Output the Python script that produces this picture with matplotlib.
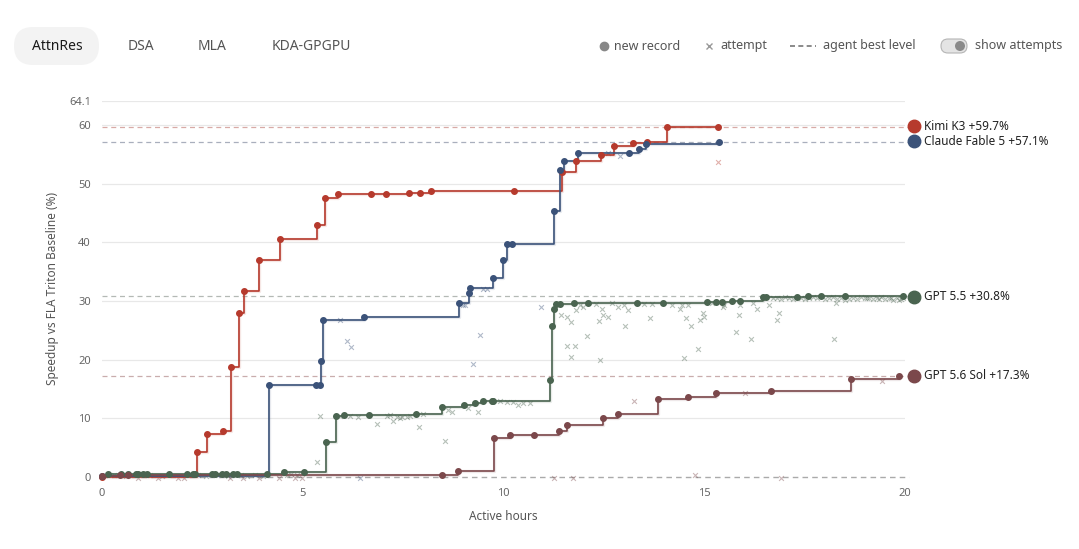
import matplotlib
matplotlib.use("Agg")
import matplotlib.pyplot as plt
from matplotlib.patches import FancyBboxPatch, Circle
from matplotlib.lines import Line2D

plt.rcParams['font.family'] = ['Noto Sans', 'DejaVu Sans']

# ---- data (hours, speedup %) ----
kimi_h = [0.0, 2.37, 2.61, 3.01, 3.22, 3.40, 3.54, 3.90, 4.43, 5.35, 5.56, 5.87, 6.70, 7.08,
          7.65, 7.93, 8.20, 10.26, 11.45, 11.81, 12.42, 12.76, 13.23, 13.57, 14.07, 15.34]
kimi_v = [0.0, 4.3, 7.3, 7.8, 18.8, 27.9, 31.7, 37.0, 40.6, 43.0, 47.5, 48.2, 48.2, 48.3,
          48.5, 48.5, 48.7, 48.7, 52.0, 53.8, 54.9, 56.4, 57.0, 57.1, 59.7, 59.7]
kimi_att_h = [15.34]
kimi_att_v = [53.7]

claude_h = [0.0, 4.17, 5.33, 5.42, 5.45, 5.51, 6.53, 8.88, 9.15, 9.17, 9.75, 9.98, 10.09, 10.20,
            11.26, 11.41, 11.51, 11.86, 13.12, 13.37, 13.55, 15.37]
claude_v = [0.1, 15.6, 15.6, 15.7, 19.7, 26.7, 27.3, 29.7, 31.3, 32.2, 33.9, 37.0, 39.8, 39.8,
            45.3, 52.3, 53.9, 55.3, 55.3, 55.9, 56.8, 57.1]
claude_att_h = [5.93, 6.11, 6.21, 9.0, 9.03, 9.25, 9.41, 9.50, 9.60, 10.94, 12.61, 12.90, 6.43]
claude_att_v = [26.7, 23.2, 22.2, 29.3, 29.4, 19.3, 24.2, 32.1, 32.1, 28.9, 55.2, 54.8, -0.1]

gpt55_h = [0.15, 0.47, 0.66, 0.85, 0.90, 1.03, 1.11, 1.68, 2.11, 2.27, 2.32, 2.73, 2.81, 2.98,
           3.10, 3.27, 3.35, 4.11, 4.53, 5.03, 5.58, 5.83, 6.03, 6.66, 7.82, 8.46, 9.02, 9.29,
           9.50, 9.71, 9.75, 11.16, 11.22, 11.27, 11.32, 11.41, 11.76, 12.10, 13.32, 13.98,
           15.06, 15.29, 15.43, 15.68, 15.89, 16.47, 16.55, 17.30, 17.59, 17.92, 18.51, 19.95]
gpt55_v = [0.45, 0.45, 0.45, 0.45, 0.45, 0.45, 0.45, 0.45, 0.45, 0.45, 0.5, 0.5, 0.5, 0.5,
           0.5, 0.5, 0.5, 0.5, 0.85, 0.9, 6.0, 10.4, 10.6, 10.6, 10.8, 12.0, 12.3, 12.7,
           12.9, 13.0, 13.0, 16.6, 25.8, 28.7, 29.5, 29.5, 29.6, 29.6, 29.6, 29.6,
           29.8, 29.9, 29.9, 30.0, 30.0, 30.7, 30.7, 30.7, 30.8, 30.8, 30.8, 30.8]
gpt55_att_h = [0.3, 0.6, 1.2, 1.5, 2.4, 2.6, 2.9, 3.15, 3.45, 3.6, 3.8, 4.0, 4.6, 4.7, 4.85,
               5.35, 5.43, 5.93, 6.18, 6.38, 6.86, 7.09, 7.17, 7.26, 7.34, 7.42, 7.46, 7.59,
               7.67, 7.90, 8.0, 8.55, 8.63, 8.71, 9.12, 9.36, 9.91, 10.08, 10.24, 10.37, 10.49,
               10.66,
               11.42, 11.57, 11.59, 11.67, 11.68, 11.78, 11.81, 11.99, 12.09, 12.38, 12.40, 12.45,
               12.49, 12.60, 12.69, 12.84, 13.03, 13.11, 13.64, 14.40, 14.50, 14.55, 14.60, 14.67,
               14.84, 14.90, 14.98, 15.00, 15.47, 15.78, 15.87, 15.89, 16.17, 16.22, 16.31, 16.62,
               16.80, 16.86, 18.24, 18.28,
               11.9, 12.3, 13.0, 13.5, 13.7, 14.2, 14.45, 15.2, 15.5,
               16.7, 16.9, 17.0, 17.1, 17.4, 17.5, 17.7, 17.8, 18.0, 18.1, 18.2, 18.4, 18.6,
               18.7, 18.8, 18.9, 19.0, 19.1, 19.2, 19.3, 19.4, 19.5, 19.6, 19.7, 19.8, 19.9, 19.95,
               16.8, 17.2, 17.6, 18.3, 18.5, 19.05, 19.35, 19.65, 19.85]
gpt55_att_v = [0.3, 0.2, 0.3, 0.2, 0.3, 0.2, 0.3, 0.2, 0.3, 0.2, 0.3, 0.2, 0.4, 0.5, 0.4,
               2.6, 10.4, 10.4, 10.4, 10.3, 9.0, 10.4, 10.6, 9.5, 10.3, 10.0, 10.2, 10.3,
               10.4, 8.6, 10.7, 6.1, 11.4, 11.0, 11.7, 11.0, 13.0, 12.8, 12.8, 12.2, 12.6,
               12.7,
               27.6, 22.4, 27.3, 26.5, 20.5, 22.4, 28.4, 29.0, 24.1, 26.6, 19.9, 28.6,
               27.7, 27.3, 29.6, 29.0, 25.7, 28.4, 27.1, 28.6, 20.3, 27.1, 29.3, 25.7,
               21.9, 26.8, 27.9, 27.3, 29.0, 24.8, 27.7, 29.3, 23.5, 29.6, 28.6, 29.3,
               26.7, 27.9, 23.5, 29.7,
               29.4, 29.5, 29.4, 29.5, 29.5, 29.4, 29.3, 29.7, 29.4,
               30.6, 30.4, 30.7, 30.5, 30.6, 30.3, 30.7, 30.5, 30.4, 30.6, 30.7, 30.5, 30.3,
               30.6, 30.4, 30.7, 30.5, 30.6, 30.3, 30.5, 30.7, 30.4, 30.6, 30.2, 30.5, 30.4, 30.6,
               30.5, 30.3, 30.6, 30.4, 30.2, 30.5, 30.3, 30.6, 30.1]

gpt56_h = [0.0, 0.45, 0.66, 8.48, 8.86, 9.76, 10.15, 10.76, 11.39, 11.59, 12.47, 12.85, 13.84,
           14.59, 15.29, 16.67, 18.65, 19.85]
gpt56_v = [0.25, 0.3, 0.3, 0.3, 1.1, 6.6, 7.2, 7.2, 7.8, 8.8, 10.0, 10.7, 13.3,
           13.7, 14.3, 14.6, 16.7, 17.3]
gpt56_att_h = [0.9, 1.4, 1.9, 2.05, 3.2, 3.5, 3.9, 4.4, 4.8, 4.97, 11.26, 11.72, 16.91,
               14.77, 13.26, 16.02, 19.43]
gpt56_att_v = [-0.1, -0.1, -0.1, -0.1, -0.1, -0.1, -0.1, -0.1, -0.1, -0.1, -0.1, -0.1, -0.1,
               0.4, 12.9, 14.3, 16.4]

names = ["Kimi K3", "Claude Fable 5", "GPT 5.5", "GPT 5.6 Sol"]
best = [59.7, 57.1, 30.8, 17.3]
colors = ["#b63a2d", "#3b5279", "#4a6450", "#7b484b"]
dash_colors = ["#d8aaa6", "#a9afbd", "#b4b9b5", "#c9adad"]

series = [
    (kimi_h, kimi_v, kimi_att_h, kimi_att_v),
    (claude_h, claude_v, claude_att_h, claude_att_v),
    (gpt55_h, gpt55_v, gpt55_att_h, gpt55_att_v),
    (gpt56_h, gpt56_v, gpt56_att_h, gpt56_att_v),
]

yticks = [0, 10, 20, 30, 40, 50, 60, 64.1]
ytick_labels = ["0", "10", "20", "30", "40", "50", "60", "64.1"]
xticks = [0, 5, 10, 15, 20]
tabs = ["AttnRes", "DSA", "MLA", "KDA-GPGPU"]
tab_x = [57, 141, 212, 311]

W, H = 1079, 549
fig = plt.figure(figsize=(W / 100, H / 100), dpi=100)
ax = fig.add_axes([102 / W, 1 - 477 / H, (905 - 102) / W, (477 - 101) / H])
ax.set_xlim(0, 20)
ax.set_ylim(0, 64.1)

for s in ax.spines.values():
    s.set_visible(False)

for y in yticks[1:]:
    ax.axhline(y, color="#e8e8e8", lw=0.9, zorder=0)
ax.plot([0, 20.1], [0, 0], color="#aaaaaa", lw=1.0, ls=(0, (4, 3)), zorder=1, clip_on=False)

ax.set_yticks(yticks)
ax.set_yticklabels(ytick_labels)
ax.set_xticks(xticks)
ax.tick_params(length=0, labelsize=8, colors="#666666", pad=8)
ax.tick_params(axis="x", pad=8)
ax.set_xlabel("Active hours", fontsize=8.5, color="#555555", labelpad=8)
ax.set_ylabel("Speedup vs FLA Triton Baseline (%)", fontsize=8.5, color="#555555", labelpad=7)

for (h, v, ah, av), name, b, c, dc in zip(series, names, best, colors, dash_colors):
    ax.plot([0, 20.15], [b, b], color=dc, lw=0.9, ls=(0, (4, 3)), zorder=1, clip_on=False)
    ax.scatter(ah, av, marker="x", s=12, color=c, alpha=0.4, linewidths=0.8, zorder=2,
               clip_on=False)
    ax.step(h, v, where="post", color=c, lw=2.4, alpha=0.12, zorder=3, clip_on=False)
    ax.step(h, v, where="post", color=c, lw=1.2, zorder=4, clip_on=False)
    ax.plot(h, v, "o", color=c, ms=4, zorder=5, clip_on=False)

label_y = [59.8, 57.2, 30.7, 17.3]
for name, b, c, ly in zip(names, best, colors, label_y):
    ax.plot([20.22], [ly], "o", color=c, ms=9, clip_on=False, zorder=6)
    ax.text(20.47, ly, f"{name} +{b}%", fontsize=8.5, color="#222222", va="center",
            ha="left", clip_on=False)

# ---- header: tabs ----
pill = FancyBboxPatch((14 / 100, (H - 65) / 100), 85 / 100, 38 / 100,
                      boxstyle="round,pad=0,rounding_size=0.19",
                      transform=fig.dpi_scale_trans, facecolor="#f3f3f3", edgecolor="none")
fig.patches.append(pill)
for i, (t, x) in enumerate(zip(tabs, tab_x)):
    fig.text(x / W, 1 - 46 / H, t, ha="center", va="center", fontsize=10,
             color="#1a1a1a" if i == 0 else "#555555", weight="medium" if i == 0 else "normal")

# ---- header: legend ----
fig.lines.append(Line2D([604 / W], [1 - 46 / H], marker="o", ms=6, color="#888888",
                        transform=fig.transFigure))
fig.text(614 / W, 1 - 46 / H, "new record", va="center", fontsize=9, color="#555555")
fig.lines.append(Line2D([709 / W], [1 - 46 / H], marker="x", ms=5, mew=1, color="#999999",
                        transform=fig.transFigure))
fig.text(720 / W, 1 - 46 / H, "attempt", va="center", fontsize=9, color="#555555")
fig.lines.append(Line2D([790 / W, 816 / W], [1 - 46 / H, 1 - 46 / H], ls=(0, (3, 2)), lw=1.2,
                        color="#777777", transform=fig.transFigure))
fig.text(823 / W, 1 - 46 / H, "agent best level", va="center", fontsize=9, color="#555555")
toggle = FancyBboxPatch((941 / 100, (H - 53) / 100), 26 / 100, 14 / 100,
                        boxstyle="round,pad=0,rounding_size=0.07",
                        transform=fig.dpi_scale_trans, facecolor="#e4e4e4",
                        edgecolor="#b5b5b5", lw=0.8)
fig.patches.append(toggle)
knob = Circle((960 / 100, (H - 46) / 100), 0.05, transform=fig.dpi_scale_trans,
              facecolor="#8a8a8a", edgecolor="none")
fig.patches.append(knob)
fig.text(975 / W, 1 - 46 / H, "show attempts", va="center", fontsize=9, color="#555555")

fig.savefig("out.png", dpi=100, facecolor="white")
